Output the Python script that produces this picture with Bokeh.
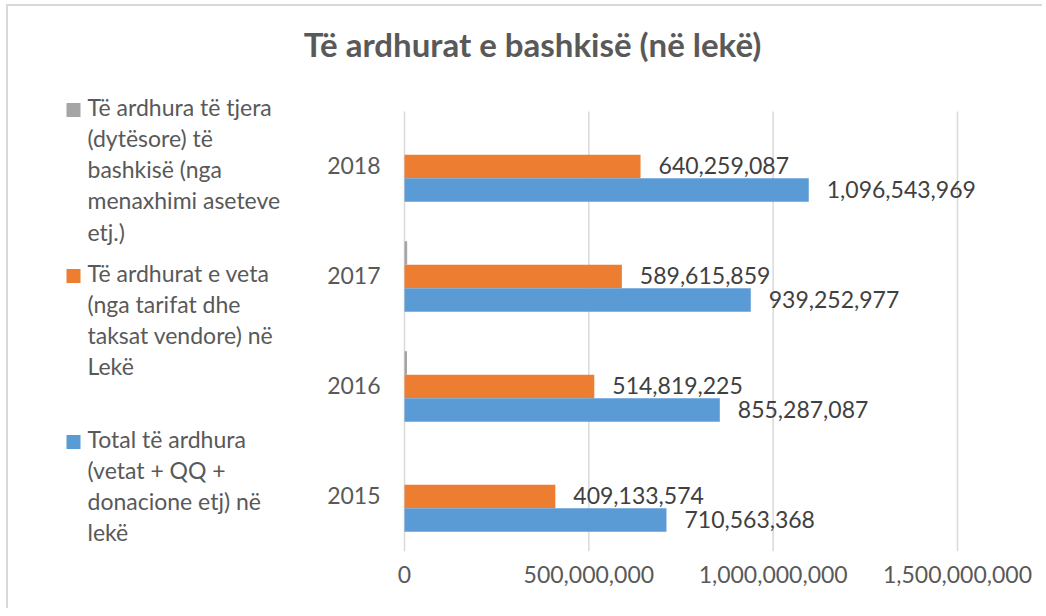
from bokeh.plotting import figure
from bokeh.models import ColumnDataSource, FixedTicker, NumeralTickFormatter, Range1d
from bokeh.transform import dodge
from bokeh.embed import file_html
from bokeh.resources import INLINE
from bokeh.core.properties import value

years = ["2015", "2016", "2017", "2018"]
other_rev = [0, 6800000, 7200000, 0]
own_rev = [409133574, 514819225, 589615859, 640259087]
total_rev = [710563368, 855287087, 939252977, 1096543969]

legend_gray = ["Të ardhura të tjera", "(dytësore) të", "bashkisë (nga", "menaxhimi aseteve", "etj.)"]
legend_orange = ["Të ardhurat e veta", "(nga tarifat dhe", "taksat vendore) në", "Lekë"]
legend_blue = ["Total të ardhura", "(vetat + QQ +", "donacione etj) në", "lekë"]
title_text = "Të ardhurat e bashkisë (në lekë)"
x_ticks = [0, 500000000, 1000000000, 1500000000]

C_GRAY = "#A5A5A5"
C_ORANGE = "#ED7D31"
C_BLUE = "#5B9BD5"
C_TEXT = "#595959"
C_LABEL = "#404040"
C_GRID = "#D9D9D9"
FONT = "Lato"
FS = "23px"

# ---- layout geometry (canvas pixels) ----
W, H = 1036, 604          # canvas size
FRAME_H = 545             # plotting frame height (x axis below it)
ZERO_PX = 396             # pixel column of value 0
SPAN_PX = 553             # pixels between 0 and the last tick
BAND = 110                # pixels per year band
PX_PER_VAL = SPAN_PX / x_ticks[-1]
TXT_SHIFT = 10            # alphabetic-baseline correction


def dx(px):
    return (px - ZERO_PX) / PX_PER_VAL


def dy(py):
    return (FRAME_H - py) / BAND - 0.5


yi = list(range(len(years)))
src = ColumnDataSource(dict(
    yi=yi, year=years, other=other_rev, own=own_rev, total=total_rev,
    own_lbl=[f"{v:,}" for v in own_rev],
    total_lbl=[f"{v:,}" for v in total_rev],
))

p = figure(width=W, height=H, x_range=Range1d(dx(0), dx(W)), y_range=Range1d(dy(FRAME_H), dy(0)),
           y_axis_location=None, output_backend="svg", toolbar_location=None,
           min_border_left=0, min_border_right=0, min_border_top=0, min_border_bottom=H - FRAME_H)
p.styles = {"margin-left": "6px", "margin-top": "4px",
            "border-left": "2px solid #D9D9D9", "border-top": "2px solid #D9D9D9"}
p.outline_line_color = None
p.grid.visible = False
p.background_fill_color = "white"
p.border_fill_color = "white"

# vertical gridlines at the axis ticks, over the year bands only
p.segment(x0=x_ticks, x1=x_ticks, y0=[yi[0] - 0.5] * len(x_ticks), y1=[yi[-1] + 0.5] * len(x_ticks),
          line_color=C_GRID, line_width=1.5)

bh = 0.214
p.hbar(y=dodge("yi", bh), right="other", left=0, height=bh, source=src,
       fill_color=C_GRAY, line_color=None)
p.hbar(y=dodge("yi", 0), right="own", left=0, height=bh, source=src,
       fill_color=C_ORANGE, line_color=None)
p.hbar(y=dodge("yi", -bh), right="total", left=0, height=bh, source=src,
       fill_color=C_BLUE, line_color=None)

for col, lbl, off in [("own", "own_lbl", 0), ("total", "total_lbl", -bh)]:
    p.text(x=col, y=dodge("yi", off), text=lbl, source=src, x_offset=18, y_offset=-1,
           text_baseline="middle", text_align="left",
           text_font=value(FONT), text_font_size=FS, text_color=C_LABEL)

# year labels (category axis)
p.text(x=[dx(372)] * len(years), y=yi, text=years, text_align="right", text_baseline="middle",
       y_offset=-1, text_font=value(FONT), text_font_size=FS, text_color=C_TEXT)

# x axis
p.xaxis.ticker = FixedTicker(ticks=x_ticks)
p.xaxis.formatter = NumeralTickFormatter(format="0,0")
p.xaxis.axis_line_color = None
p.xaxis.major_tick_line_color = None
p.xaxis.minor_tick_line_color = None
p.xaxis.major_tick_in = 0
p.xaxis.major_tick_out = 0
p.xaxis.major_label_text_font = FONT
p.xaxis.major_label_text_font_size = FS
p.xaxis.major_label_text_color = C_TEXT
p.xaxis.major_label_standoff = 14

# title
p.text(x=[dx(524)], y=[dy(47 - TXT_SHIFT)], text=[title_text], text_align="center",
       text_baseline="alphabetic", text_font=value(FONT), text_font_size="33px",
       text_font_style="bold", text_color=C_TEXT)


# legend
def legend_item(lines, color, first_baseline):
    step = 31.3
    ys = [dy(first_baseline - TXT_SHIFT + i * step) for i in range(len(lines))]
    p.text(x=[dx(79)] * len(lines), y=ys, text=lines, text_align="left", text_baseline="alphabetic",
           text_font=value(FONT), text_font_size=FS, text_color=C_TEXT)
    p.scatter(x=[dx(65)], y=[dy(first_baseline - 6.5)], marker="square", size=14,
              fill_color=color, line_color=None)


legend_item(legend_gray, C_GRAY, 110)
legend_item(legend_orange, C_ORANGE, 276)
legend_item(legend_blue, C_BLUE, 442)

open("out.html", "w").write(file_html(p, INLINE))
